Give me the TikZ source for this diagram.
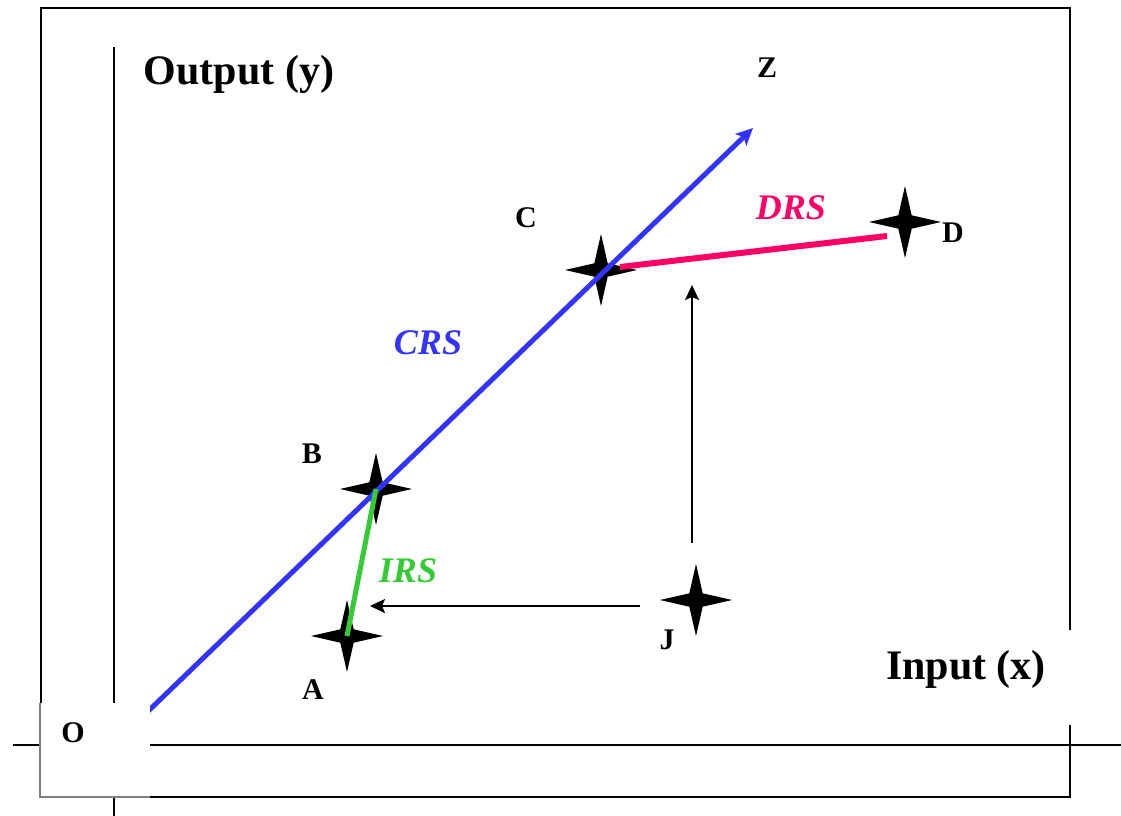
\documentclass[tikz,border=0pt]{standalone}
\usepackage{fontspec}
\setmainfont{Liberation Serif}
\usetikzlibrary{shapes.geometric,arrows.meta}
\definecolor{crsblue}{HTML}{3333FF}
\definecolor{irsgreen}{HTML}{33CC33}
\definecolor{drsred}{HTML}{FF0066}
\tikzset{
  starnode/.style={star, star points=4, star point ratio=3.8, minimum size=72pt, inner sep=0pt, fill=black, draw=none},
  ptlabel/.style={font=\fontsize{30}{34}\selectfont\bfseries, inner sep=0pt},
  axlabel/.style={font=\fontsize{42}{48}\selectfont\bfseries, inner sep=0pt},
  rslabel/.style={font=\fontsize{36}{40}\selectfont\bfseries\itshape, inner sep=0pt},
  axisline/.style={line width=2pt, black},
  arr/.style={line width=2pt, black, -{Stealth[length=15pt,width=14pt,inset=3pt]}},
  whitebox/.style={fill=white, draw=none}
}
\begin{document}
\begin{tikzpicture}[x=1pt,y=-1pt]
\useasboundingbox (0,0) rectangle (1121,816);
% frame and axes
\draw[line width=2pt] (41,8) rectangle (1070,797);
\draw[axisline] (114,47) -- (114,816);
\draw[axisline] (13,745) -- (1121,745);
% stars
\node[starnode] (A) at (347,636) {};
\node[starnode] (B) at (376,489) {};
\node[starnode] (C) at (601,270) {};
\node[starnode] (D) at (905,222) {};
\node[starnode] (J) at (696,600) {};
% coordinates
\coordinate (start) at (140,719);
\coordinate (Ztip) at (753,128);
\coordinate (Cr) at (620,267);
\coordinate (Dl) at (887,236);
\coordinate (h1) at (640,606);
\coordinate (h2) at (370,606);
\coordinate (v1) at (692,543);
\coordinate (v2) at (692,285);
% lines
\draw[crsblue, line width=5pt, -{Stealth[length=17pt,width=16pt,inset=4pt]}] (start) -- (Ztip);
\draw[irsgreen, line width=5pt] (A.center) -- (B.center);
\draw[drsred, line width=6pt] (Cr) -- (Dl);
\draw[arr] (h1) -- (h2);
\draw[arr] (v1) -- (v2);
% white boxes
\fill[whitebox] (40,703) rectangle (150,797);
\draw[gray, line width=1.2pt] (40,703) -- (40,797) -- (150,797);
\fill[whitebox] (862,630) rectangle (1078,725);
% labels
\node[axlabel] (ylab) at (239,74) {Output (y)};
\node[axlabel] (xlab) at (966,669) {Input (x)};
\node[ptlabel] (Zl) at (767,68) {Z};
\node[ptlabel] (Cl) at (526,218) {C};
\node[ptlabel] (Dlab) at (953,233) {D};
\node[ptlabel] (Bl) at (312,454) {B};
\node[ptlabel] (Jl) at (667,640) {J};
\node[ptlabel] (Al) at (313,690) {A};
\node[ptlabel] (Ol) at (73,733) {O};
\node[rslabel, text=crsblue] (crs) at (428,343) {CRS};
\node[rslabel, text=drsred] (drs) at (791,208) {DRS};
\node[rslabel, text=irsgreen] (irs) at (408,571) {IRS};
\end{tikzpicture}
\end{document}
